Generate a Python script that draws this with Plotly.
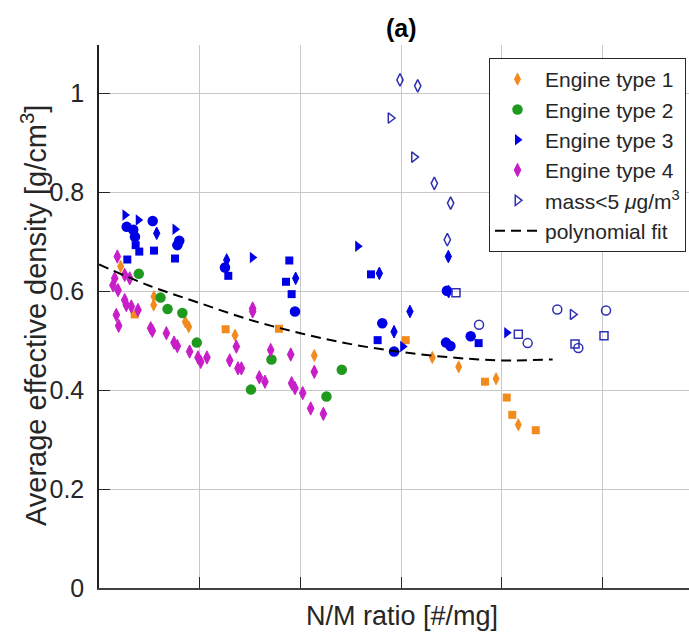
import plotly.graph_objects as go

# ---------------- data ----------------
# Engine type 1 (orange)
e1_dia_x = [0.215, 0.546, 0.543, 0.857, 0.891, 1.351, 2.138, 3.310, 3.572, 3.943, 4.164]
e1_dia_y = [0.650, 0.589, 0.572, 0.538, 0.528, 0.511, 0.470, 0.466, 0.447, 0.423, 0.330]
e1_sq_x = [0.354, 1.258, 1.787, 3.046, 3.833, 4.049, 4.104, 4.337]
e1_sq_y = [0.553, 0.523, 0.524, 0.501, 0.417, 0.385, 0.350, 0.319]

# Engine type 2 (green)
e2_x = [0.395, 0.611, 0.681, 0.828, 0.971, 1.509, 1.713, 2.259, 2.411]
e2_y = [0.635, 0.587, 0.564, 0.556, 0.496, 0.401, 0.462, 0.387, 0.441]

# Engine type 3 (blue, filled)
e3_tri_x = [0.258, 0.390, 0.755, 1.523, 2.569, 3.016, 4.049]
e3_tri_y = [0.754, 0.744, 0.725, 0.668, 0.691, 0.488, 0.516]
e3_cir_x = [0.275, 0.340, 0.357, 0.533, 0.778, 0.797, 1.251, 1.946, 2.813, 2.930, 3.446, 3.490, 3.691, 3.455]
e3_cir_y = [0.730, 0.724, 0.710, 0.742, 0.693, 0.702, 0.648, 0.559, 0.535, 0.478, 0.496, 0.489, 0.509, 0.601]
e3_sq_x = [0.281, 0.364, 0.400, 0.546, 0.755, 1.284, 1.890, 1.857, 1.913, 2.701, 2.767, 3.770]
e3_sq_y = [0.664, 0.693, 0.680, 0.682, 0.666, 0.631, 0.662, 0.619, 0.594, 0.634, 0.501, 0.495]
e3_dia_x = [0.573, 1.268, 1.953, 2.784, 2.930, 3.088, 3.469, 3.472]
e3_dia_y = [0.717, 0.663, 0.626, 0.636, 0.518, 0.559, 0.670, 0.599]

# Engine type 4 (magenta)
e4_x = [0.182, 0.156, 0.139, 0.189, 0.255, 0.305, 0.255, 0.321, 0.271, 0.387, 0.172, 0.195,
        0.513, 0.530, 0.669, 0.745, 0.778, 0.900, 0.983, 1.010, 1.072, 1.298, 1.364, 1.380,
        1.414, 1.526, 1.526, 1.592, 1.648, 1.705, 1.904, 1.913, 1.946, 2.023, 2.102, 2.228, 2.138]
e4_y = [0.670, 0.626, 0.612, 0.602, 0.633, 0.626, 0.582, 0.569, 0.572, 0.562, 0.552, 0.530,
        0.525, 0.520, 0.515, 0.496, 0.489, 0.478, 0.466, 0.457, 0.466, 0.460, 0.488, 0.444,
        0.444, 0.565, 0.559, 0.426, 0.417, 0.481, 0.472, 0.414, 0.404, 0.394, 0.363, 0.352, 0.437]

# mass < 5 ug/m3 (open markers)
lo_dia_x = [2.989, 3.165, 3.330, 3.492, 3.459]
lo_dia_y = [1.027, 1.015, 0.818, 0.778, 0.704]
lo_tri_x = [2.895, 3.128, 4.704]
lo_tri_y = [0.950, 0.871, 0.553]
lo_cir_x = [3.774, 4.257, 4.551, 4.760, 5.035]
lo_cir_y = [0.532, 0.495, 0.563, 0.485, 0.561]
lo_sq_x = [3.545, 4.164, 4.727, 5.015]
lo_sq_y = [0.597, 0.513, 0.493, 0.510]

# polynomial fit
fit_x = [0.0, 0.5, 1.0, 1.5, 2.0, 2.5, 3.0, 3.5, 4.0, 4.505]
fit_y = [0.654, 0.611, 0.576, 0.542, 0.515, 0.493, 0.477, 0.466, 0.460, 0.462]

y_ticks = [0, 0.2, 0.4, 0.6, 0.8, 1.0]
y_ticktext = ["0", "0.2", "0.4", "0.6", "0.8", "1"]
x_ticks = [1, 2, 3, 4, 5]

names = ["Engine type 1", "Engine type 2", "Engine type 3", "Engine type 4",
         "mass&lt;5 <i>μ</i>g/m<sup>3</sup>", "polynomial fit"]

# ---------------- styling ----------------
ORANGE = "#F28A1E"
GREEN = "#1F9A1F"
BLUE = "#0000E6"
MAGENTA = "#C81EC8"
NAVY = "#3030B4"
FONT = "Liberation Sans"

W, H = 689, 634
L, R, T, B = 99, 0, 45, 46
pw = W - L - R
ph = H - T - B
XMAX = pw / 100.7


def px_x(p):
    return (p - L) / pw


def px_y(p):
    return (H - B - p) / ph


fig = go.Figure()


def add(x, y, color, symbol, size, name=None, rank=None, open_=False, lw=0):
    marker = dict(color=color, symbol=symbol, size=size)
    if open_:
        marker["line"] = dict(color=color, width=1.5)
    else:
        marker["line"] = dict(color=color, width=lw)
    fig.add_trace(go.Scatter(
        x=x, y=y, mode="markers", marker=marker,
        name=name if name else "", showlegend=name is not None,
        legendrank=rank if rank else 1000, hoverinfo="skip"))


add(e1_dia_x, e1_dia_y, ORANGE, "diamond-tall", 8.5, names[0], 1, lw=1)
add(e1_sq_x, e1_sq_y, ORANGE, "square", 8)
add(e2_x, e2_y, GREEN, "circle", 10.5, names[1], 2)
add(e3_tri_x, e3_tri_y, BLUE, "triangle-right", 10, names[2], 3)
add(e3_cir_x, e3_cir_y, BLUE, "circle", 10.5)
add(e3_sq_x, e3_sq_y, BLUE, "square", 8)
add(e3_dia_x, e3_dia_y, BLUE, "diamond-tall", 9, lw=1)
add(e4_x, e4_y, MAGENTA, "diamond-tall", 9.5, names[3], 4, lw=1)
add(lo_tri_x, lo_tri_y, NAVY, "triangle-right-open", 9, names[4], 5, open_=True)
add(lo_dia_x, lo_dia_y, NAVY, "diamond-tall-open", 9, open_=True)
add(lo_cir_x, lo_cir_y, NAVY, "circle-open", 9, open_=True)
add(lo_sq_x, lo_sq_y, NAVY, "square-open", 8, open_=True)

fig.add_trace(go.Scatter(
    x=fit_x, y=fit_y, mode="lines", line=dict(color="black", width=2, dash="10px,6px", shape="spline"),
    name=names[5], legendrank=6, hoverinfo="skip"))

fig.update_layout(
    width=W, height=H,
    margin=dict(l=L, r=R, t=T, b=B, pad=0),
    paper_bgcolor="white", plot_bgcolor="white",
    font=dict(family=FONT, color="#262626"),
    showlegend=True,
    legend=dict(
        x=px_x(489), y=px_y(58), xanchor="left", yanchor="top",
        bgcolor="white", bordercolor="#262626", borderwidth=1,
        font=dict(size=21, family=FONT, color="#262626"),
        itemwidth=45, tracegroupgap=0, traceorder="normal",
    ),
    xaxis=dict(
        range=[0, XMAX], tickvals=x_ticks, showticklabels=False,
        ticks="inside", ticklen=11, tickcolor="#262626", tickwidth=1,
        showgrid=True, gridcolor="#C8C8C8", gridwidth=1,
        showline=True, linecolor="#404040", linewidth=1.5, mirror=False,
        zeroline=False, fixedrange=True,
    ),
    yaxis=dict(
        range=[0, 1.0976], tickvals=y_ticks, ticktext=y_ticktext,
        ticks="inside", ticklen=11, tickcolor="#262626", tickwidth=1,
        tickfont=dict(size=25, family=FONT, color="#262626"),
        ticklabelstandoff=8,
        showgrid=True, gridcolor="#C8C8C8", gridwidth=1,
        showline=True, linecolor="#202020", linewidth=1.5, mirror=False,
        zeroline=False, fixedrange=True,
    ),
    annotations=[
        dict(text="<b>(a)</b>", xref="paper", yref="paper", x=px_x(401), y=px_y(28),
             xanchor="center", yanchor="middle", showarrow=False,
             font=dict(size=25, family=FONT, color="black")),
        dict(text="N/M ratio [#/mg]", xref="paper", yref="paper", x=px_x(402), y=px_y(616),
             xanchor="center", yanchor="middle", showarrow=False,
             font=dict(size=27, family=FONT, color="#262626")),
        dict(text="Average effective density [g/cm<sup>3</sup>]", xref="paper", yref="paper",
             x=px_x(34), y=px_y(316), xanchor="center", yanchor="middle", textangle=-90,
             showarrow=False, font=dict(size=29, family=FONT, color="#262626")),
    ],
)

fig.write_html("out.html")
